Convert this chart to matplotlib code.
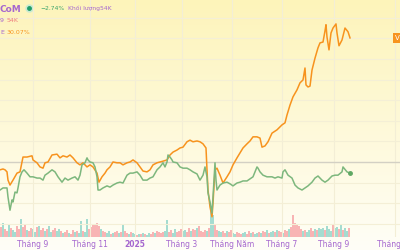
import numpy as np
import matplotlib
matplotlib.use("Agg")
import matplotlib.pyplot as plt

# session index (trading days) and % change for the two compared symbols
orange_x = [0, 3, 5, 7, 8, 10, 13, 17, 20, 23, 27, 32, 33, 37, 40, 43, 45, 48, 52, 57,
            60, 63, 67, 70, 73, 77, 80, 83, 87, 90, 93, 97, 99, 102, 105, 107, 110, 113,
            117, 120, 123, 127, 130, 133, 137, 140, 143, 147, 150, 153, 157, 160, 163,
            167, 170, 173, 177, 180, 183, 187, 190, 193, 197, 200, 203, 206, 207, 208,
            210, 212, 213, 215, 217, 220, 223, 227, 230, 233, 237, 240, 243, 247, 250,
            253, 257, 260, 262, 265, 268, 272, 277, 282, 285, 287, 290, 293, 297, 300,
            303, 305, 306, 308, 310, 312, 315, 318, 320, 323, 325, 326, 327, 329, 331,
            333, 336, 337, 339, 342, 345, 348, 350]
orange_pct = [-1.9, -1.7, -1.9, -2.4, -4.4, -5.6, -4.4, -2.7, -2.4, 1.2, 1.2, 1.5, 0.5,
              -0.2, -1.2, -1.5, -0.2, 0.0, 1.7, 1.9, 1.0, 1.5, 1.2, 1.7, 1.0, -0.2, -0.7,
              -0.2, -1.2, -0.7, -1.2, -2.7, -4.9, -3.6, -2.7, -1.9, -1.2, 0.0, -0.2, -0.2,
              -0.7, -0.2, 0.0, 0.5, -0.2, -1.2, -2.2, -2.4, -1.9, -0.7, -0.2, 0.0, 0.2,
              0.5, 1.7, 2.4, 2.9, 3.4, 3.6, 4.9, 5.3, 4.9, 5.1, 4.9, 4.4, 3.4, -1.9, -6.8,
              -10.9, -13.3, -10.0, -1.9, -1.5, -3.2, -5.1, -3.6, -2.4, -0.7, 1.0, 2.2,
              3.4, 4.4, 5.1, 6.1, 6.1, 5.8, 3.6, 3.9, 4.9, 7.0, 7.8, 9.0, 9.5, 11.4, 13.8,
              15.8, 17.5, 19.2, 19.9, 22.8, 18.7, 18.2, 18.4, 22.3, 25.2, 27.7, 28.9,
              29.1, 31.8, 33.3, 30.3, 27.2, 31.3, 32.5, 33.5, 31.3, 28.2, 29.6, 32.5,
              31.6, 30.1]

green_x = [0, 3, 7, 8, 10, 12, 13, 15, 17, 18, 20, 22, 24, 27, 30, 33, 37, 40, 43, 45,
           48, 52, 55, 58, 62, 65, 68, 72, 75, 78, 80, 82, 85, 87, 88, 90, 93, 95, 97,
           98, 100, 103, 107, 110, 113, 117, 120, 123, 127, 130, 133, 137, 140, 143, 147,
           150, 153, 157, 160, 163, 165, 167, 168, 170, 172, 173, 177, 180, 183, 187,
           190, 193, 197, 200, 203, 205, 207, 208, 210, 212, 213, 215, 216, 217, 220,
           223, 227, 230, 233, 237, 240, 243, 247, 250, 253, 255, 257, 258, 260, 263,
           267, 272, 275, 278, 282, 283, 285, 288, 292, 295, 298, 302, 305, 308, 312,
           315, 318, 322, 325, 328, 332, 335, 338, 342, 343, 347, 350]
green_pct = [-6.8, -6.3, -6.3, -8.5, -11.7, -9.2, -9.7, -7.3, -7.5, -6.3, -3.6, -2.4,
             -1.9, -2.7, -3.6, -3.6, -3.9, -3.9, -4.4, -3.2, -2.7, -1.9, -2.4, -3.6,
             -4.9, -3.9, -4.4, -3.9, -3.6, -4.4, -3.2, -0.7, -0.2, 1.0, 0.5, 0.0, -0.2,
             -1.2, -3.6, -6.8, -6.8, -6.3, -5.8, -6.1, -5.6, -5.1, -4.9, -5.1, -3.2,
             -2.7, -2.7, -2.4, -3.2, -4.4, -4.4, -3.9, -3.6, -1.9, -1.2, -0.2, -1.2, 0.0,
             1.7, 1.2, 0.5, 0.0, -0.2, -1.2, -1.5, -1.5, -1.9, -2.4, -2.9, -4.4, -3.2,
             -1.2, -3.6, -7.5, -9.7, -12.4, -8.5, -0.2, -4.4, -6.8, -5.6, -5.1, -4.9,
             -5.3, -5.8, -5.1, -4.9, -4.6, -4.6, -4.1, -3.6, -2.4, -1.2, -1.5, -2.4,
             -3.2, -3.6, -3.6, -3.9, -3.6, -3.9, -2.4, -1.9, -3.2, -3.9, -5.6, -6.3,
             -6.8, -6.3, -5.8, -4.9, -3.9, -3.4, -4.4, -4.9, -4.4, -3.4, -3.2, -3.2,
             -2.4, -1.2, -2.4, -2.7]

# volume in thousands of shares, one bar every 2 sessions
vol_k = [60, 84, 48, 36, 72, 54, 42, 30, 66, 48,
         108, 60, 72, 42, 36, 54, 48, 30, 60, 66,
         42, 54, 36, 48, 66, 30, 42, 54, 36, 48,
         36, 24, 30, 42, 24, 18, 42, 30, 36, 24,
         96, 36, 30, 108, 48, 60, 78, 72, 84, 66,
         48, 36, 30, 24, 36, 18, 24, 30, 36, 24,
         30, 72, 36, 24, 18, 30, 24, 18, 12, 18,
         18, 24, 18, 12, 24, 18, 30, 24, 36, 30,
         24, 30, 36, 102, 30, 42, 24, 48, 30, 36,
         48, 36, 42, 30, 54, 36, 48, 42, 54, 66,
         36, 30, 42, 36, 54, 180, 132, 72, 42, 36,
         30, 36, 24, 36, 30, 42, 24, 18, 30, 24,
         18, 24, 30, 18, 36, 24, 30, 18, 24, 30,
         24, 36, 30, 42, 24, 30, 36, 30, 42, 36,
         30, 24, 42, 36, 48, 60, 132, 84, 72, 66,
         48, 36, 42, 30, 42, 54, 36, 48, 42, 54,
         48, 54, 42, 66, 48, 36, 72, 54, 60, 48,
         78, 42, 54, 36, 54]
vol_dir = ("dudduduudd" "uddudduudu" "dduduudduu" "dudduddudu" "uduudddddd"
           "udduududdu" "dudduduudu" "duduuddudd" "dduudduudd" "duudduddud"
           "ddduduuddu" "uddudduudd" "duudduduud" "udduduudud" "dudduddddd"
           "duduuddudu" "uuduuuduud" "uduud")

tick_pos = [33, 90, 135, 182, 232, 282, 334, 395]
tick_labels = ["Tháng 9", "Tháng 11", "2025", "Tháng 3", "Tháng Năm", "Tháng 7",
               "Tháng 9", "Tháng 11"]

ORANGE = "#f7931e"
GREEN = "#7db77d"
PURPLE = "#a567cf"


def main():
    fig = plt.figure(figsize=(4, 2.5), dpi=100)

    # yellow-to-white background gradient
    bg = fig.add_axes([0, 0, 1, 1], zorder=0)
    top = np.array([253, 244, 186]) / 255
    bot = np.array([255, 254, 247]) / 255
    t = np.linspace(0, 1, 256)[:, None]
    grad = top * (1 - t) + bot * t
    bg.imshow(grad[:, None, :], aspect="auto", extent=[0, 1, 0, 1])
    bg.axis("off")

    ax = fig.add_axes([0, 13 / 250, 1, 237 / 250], zorder=2)
    ax.patch.set_alpha(0)
    ax.set_xlim(0, 400)
    ax.set_ylim(-18.2, 39.3)

    # volume pane at the bottom
    vax = ax.twinx()
    vax.set_ylim(0, 1422)
    vol_sessions = np.arange(len(vol_k)) * 2 + 1
    vol_colors = ["#a5dcd0" if d == "u" else "#f8b4b4" for d in vol_dir]
    vax.bar(vol_sessions, vol_k, width=1.1, color=vol_colors, linewidth=0)
    vax.set_yticks([])
    for s in vax.spines.values():
        s.set_visible(False)
    vax.set_zorder(1)
    ax.set_zorder(2)

    for p in tick_pos:
        ax.axvline(p, color="#f3eed6", lw=0.8, zorder=0)
    for y in np.arange(-15, 40, 5):
        if y != 0:
            ax.axhline(y, color="#f4efd6", lw=0.8, zorder=0)
    ax.axhline(0, color="#d3d0c4", lw=1.0, zorder=1)

    ax.plot(orange_x, orange_pct, color=ORANGE, lw=1.1, zorder=3)
    ax.plot(green_x, green_pct, color=GREEN, lw=1.1, zorder=3)
    ax.plot(green_x[-1], green_pct[-1], "o", color="#5fa863", ms=2.5, zorder=4)

    ax.text(395, orange_pct[-1], "V", color="white", fontsize=5, va="center",
            ha="left", zorder=5,
            bbox=dict(boxstyle="square,pad=0.25", fc=ORANGE, ec="none"))

    ax.set_xticks(tick_pos)
    ax.set_xticklabels(tick_labels, fontsize=5.5, color=PURPLE)
    ax.get_xticklabels()[2].set_fontweight("bold")
    ax.tick_params(axis="x", length=0, pad=2)
    ax.set_yticks([])
    for s in ax.spines.values():
        s.set_visible(False)

    # legend header
    fig.text(0 / 400, 1 - 9 / 250, "CoM", fontsize=6.5, color=PURPLE,
             fontweight="bold", va="center")
    fig.add_artist(plt.Line2D([29 / 400], [1 - 8 / 250], marker="o", ms=5,
                              color="#c9ead2", transform=fig.transFigure))
    fig.add_artist(plt.Line2D([29 / 400], [1 - 8 / 250], marker="o", ms=2.5,
                              color="#1f9d6a", transform=fig.transFigure))
    fig.text(40 / 400, 1 - 8 / 250, "\u22122.74%", fontsize=4.3, color="#3aa46a",
             va="center")
    fig.text(68 / 400, 1 - 8 / 250, "Khối lượng54K", fontsize=4.3, color=PURPLE,
             va="center")
    fig.text(0, 1 - 20 / 250, "9", fontsize=4.5, color=PURPLE, va="center")
    fig.text(7 / 400, 1 - 20 / 250, "54K", fontsize=4.5, color="#f07f7f", va="center")
    fig.text(0, 1 - 32 / 250, "E", fontsize=4.5, color=PURPLE, va="center")
    fig.text(7 / 400, 1 - 32 / 250, "30.07%", fontsize=4.5, color=ORANGE, va="center")

    fig.savefig("out.png", dpi=100)


if __name__ == "__main__":
    main()
